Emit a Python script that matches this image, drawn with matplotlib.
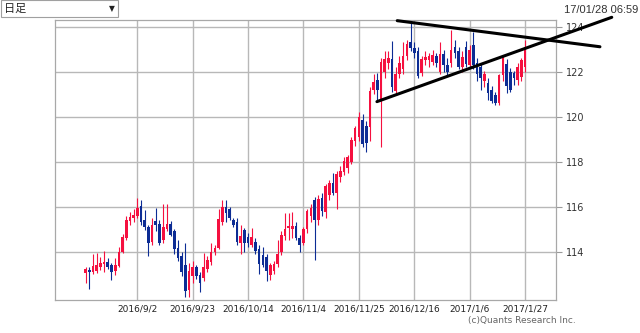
import matplotlib
matplotlib.use("Agg")
import matplotlib.pyplot as plt
from matplotlib.patches import Rectangle
import numpy as np

# daily candles, 2016/8/15 .. 2017/1/27 (weekdays)
opens = [113.05, 113.20, 113.10, 113.15, 113.30, 113.45, 113.55, 113.40, 113.15, 113.35,
         114.00, 114.60, 115.35, 115.50, 115.60, 116.05, 115.40, 115.10, 114.45, 115.35,
         115.25, 114.50, 115.00, 115.25, 114.90, 114.15, 113.80, 113.40, 112.30, 112.90,
         113.30, 112.95, 112.85, 113.25, 113.55, 114.00, 114.15, 115.30, 116.00, 115.90,
         115.40, 115.30, 114.40, 114.95, 114.65, 114.30, 114.45, 114.10, 113.85, 113.75,
         112.95, 113.15, 113.45, 114.00, 114.70, 115.05, 115.00, 115.15, 114.60, 114.40,
         115.00, 115.60, 116.30, 115.40, 116.40, 115.75, 116.50, 117.05, 116.60, 117.30,
         117.55, 117.70, 118.00, 118.90, 119.10, 119.85, 119.60, 119.55, 121.20, 121.65,
         120.70, 122.00, 122.40, 122.55, 121.15, 121.90, 122.10, 122.70, 123.30, 123.05,
         122.90, 121.95, 122.50, 122.50, 122.45, 122.70, 122.00, 122.80, 122.30, 122.40,
         123.10, 122.90, 122.20, 123.10, 122.30, 123.20, 122.40, 122.20, 121.60, 121.50,
         121.20, 120.95, 120.60, 121.85, 122.35, 122.00, 121.95, 121.65, 121.75, 122.20]
highs = [113.30, 113.30, 113.90, 113.95, 113.75, 114.05, 113.70, 113.50, 113.70, 114.20,
         114.80, 115.60, 115.75, 115.90, 116.40, 116.30, 115.85, 115.20, 115.50, 115.95,
         115.40, 116.10, 116.10, 115.35, 115.00, 114.50, 114.00, 114.40, 113.50, 113.60,
         113.40, 113.10, 113.95, 113.80, 114.40, 114.30, 115.90, 116.30, 116.30, 116.00,
         115.50, 115.50, 115.20, 115.05, 114.85, 115.05, 114.60, 114.30, 114.20, 113.90,
         113.50, 113.60, 114.50, 114.90, 115.70, 115.70, 115.75, 115.30, 114.75, 115.10,
         115.90, 116.10, 116.45, 116.50, 116.60, 117.00, 117.20, 117.50, 117.60, 117.80,
         118.20, 118.30, 119.10, 119.60, 120.20, 120.10, 119.80, 121.30, 121.90, 121.95,
         122.60, 122.90, 122.90, 123.35, 122.20, 122.70, 123.30, 123.40, 124.15, 123.30,
         123.10, 122.70, 122.90, 122.85, 122.95, 122.85, 123.30, 122.95, 122.60, 123.85,
         123.40, 123.10, 122.90, 123.35, 123.20, 123.75, 122.60, 122.35, 122.05, 121.70,
         121.35, 121.10, 121.90, 122.70, 122.55, 122.15, 122.05, 122.40, 122.60, 123.40]
lows = [112.60, 112.35, 113.00, 113.05, 113.20, 113.10, 113.25, 112.75, 112.95, 113.30,
        113.95, 114.50, 115.20, 115.30, 115.50, 115.20, 114.95, 113.80, 114.30, 114.90,
        114.30, 114.40, 114.90, 114.70, 113.90, 113.60, 112.90, 112.00, 112.00, 112.60,
        112.80, 112.20, 112.70, 113.10, 113.40, 113.85, 114.10, 115.20, 115.30, 115.40,
        115.10, 114.30, 113.90, 114.00, 114.20, 114.20, 113.90, 113.00, 113.30, 112.70,
        112.75, 113.00, 113.30, 113.85, 114.50, 114.50, 114.60, 114.50, 114.00, 114.30,
        114.85, 115.30, 113.65, 115.20, 115.60, 115.50, 116.30, 116.50, 115.90, 117.10,
        117.40, 117.50, 117.90, 118.70, 118.90, 118.65, 118.45, 118.90, 121.00, 120.75,
        118.65, 121.70, 122.10, 121.10, 121.00, 121.70, 121.90, 122.50, 122.90, 122.60,
        121.70, 121.80, 122.30, 122.20, 122.30, 122.20, 121.90, 122.00, 121.80, 122.20,
        122.60, 122.10, 122.00, 122.20, 122.20, 122.10, 121.60, 121.20, 121.30, 120.75,
        120.60, 120.50, 120.50, 121.60, 121.05, 121.10, 121.40, 121.40, 121.60, 122.00]
closes = [113.25, 113.10, 113.35, 113.40, 113.50, 113.55, 113.30, 113.10, 113.40, 114.00,
          114.65, 115.40, 115.55, 115.65, 115.95, 115.30, 115.10, 114.40, 115.20, 115.20,
          114.40, 115.10, 115.25, 114.75, 114.10, 113.70, 113.10, 112.25, 113.15, 113.30,
          112.90, 112.60, 113.30, 113.65, 114.00, 114.15, 115.45, 116.00, 115.70, 115.50,
          115.20, 114.45, 114.70, 114.40, 114.40, 114.65, 114.05, 113.45, 113.40, 113.15,
          113.40, 113.45, 113.90, 114.75, 115.00, 115.15, 115.15, 114.60, 114.30, 115.00,
          115.80, 115.95, 115.40, 116.35, 115.80, 116.90, 117.05, 116.60, 117.45, 117.60,
          118.05, 118.20, 118.95, 119.50, 120.00, 118.80, 118.85, 121.15, 121.55, 121.20,
          122.45, 122.55, 122.60, 121.30, 121.90, 122.40, 122.70, 123.25, 123.05, 122.85,
          121.80, 122.55, 122.65, 122.70, 122.75, 122.40, 122.80, 122.30, 122.00, 122.95,
          122.85, 122.20, 122.65, 122.35, 122.95, 122.30, 121.90, 121.70, 121.90, 121.05,
          120.70, 120.60, 121.85, 122.60, 121.35, 121.20, 121.70, 122.20, 122.50, 123.10]

# x tick labels every 15 sessions
tick_idx = [14, 29, 44, 59, 74, 89, 104, 119]
tick_labels = ["2016/9/2", "2016/9/23", "2016/10/14", "2016/11/4",
               "2016/11/25", "2016/12/16", "2017/1/6", "2017/1/27"]
price_ticks = [114, 116, 118, 120, 122, 124]

# hand-drawn trend lines (session index, price)
resist_x = [84.4, 139.3]
resist_y = [124.27, 123.11]
support_x = [78.9, 142.5]
support_y = [120.67, 124.42]

UP = "#f5103f"
DOWN = "#0c2c94"
GRID = "#b8b8b8"

o = np.array(opens)
h = np.array(highs)
l = np.array(lows)
c = np.array(closes)
x = np.arange(len(o))
up = c >= o
cols = np.where(up, UP, DOWN)

fig = plt.figure(figsize=(6.4, 3.33), dpi=100)
ax = fig.add_axes([55 / 640, 33 / 333, 501 / 640, 280 / 333])

ax.vlines(x, l, h, colors=cols, linewidth=0.8, zorder=2)
body_h = np.maximum(np.abs(c - o), 0.04)
ax.bar(x, body_h, bottom=np.minimum(o, c), width=0.72, color=cols,
       linewidth=0, zorder=3)

ax.plot(resist_x, resist_y, color="black", linewidth=2.2, clip_on=False,
        solid_capstyle="round", zorder=5)
ax.plot(support_x, support_y, color="black", linewidth=2.2, clip_on=False,
        solid_capstyle="round", zorder=5)

ax.set_xlim(-8.3, 127.4)
ax.set_ylim(111.85, 124.3)

ax.set_axisbelow(True)
ax.set_xticks(tick_idx)
ax.set_xticklabels(tick_labels)
ax.set_yticks(price_ticks)
ax.yaxis.tick_right()
ax.grid(True, color=GRID, linewidth=1.0)
ax.tick_params(axis="x", length=0, pad=3, labelsize=6.5, labelcolor="#222222")
ax.tick_params(axis="y", direction="out", length=4.5, width=0.8, color="#999999",
               pad=3, labelsize=7, labelcolor="#333333")
for s in ax.spines.values():
    s.set_color("#a8a8a8")
    s.set_linewidth(0.9)

# period selector box
fig.add_artist(Rectangle((0.5 / 640, 1 - 17 / 333), 117 / 640, 16.5 / 333,
                         transform=fig.transFigure, facecolor="white",
                         edgecolor="#a0a0a0", linewidth=0.8))
fig.text(4 / 640, 1 - 9 / 333, "日足", fontsize=8, va="center", ha="left",
         family=["Noto Sans CJK JP", "DejaVu Sans"], color="#222222")
fig.text(112 / 640, 1 - 9 / 333, "▼", fontsize=5.5, va="center", ha="center",
         color="#222222")

fig.text(638 / 640, 1 - 10 / 333, "17/01/28 06:59", fontsize=8, ha="right",
         va="center", family="Liberation Sans", color="#333333")
fig.text(522 / 640, 1 - 321 / 333, "(c)Quants Research Inc.", fontsize=6.5,
         ha="center", va="center", color="#666666")

fig.savefig("out.png", dpi=100)
plt.close(fig)
